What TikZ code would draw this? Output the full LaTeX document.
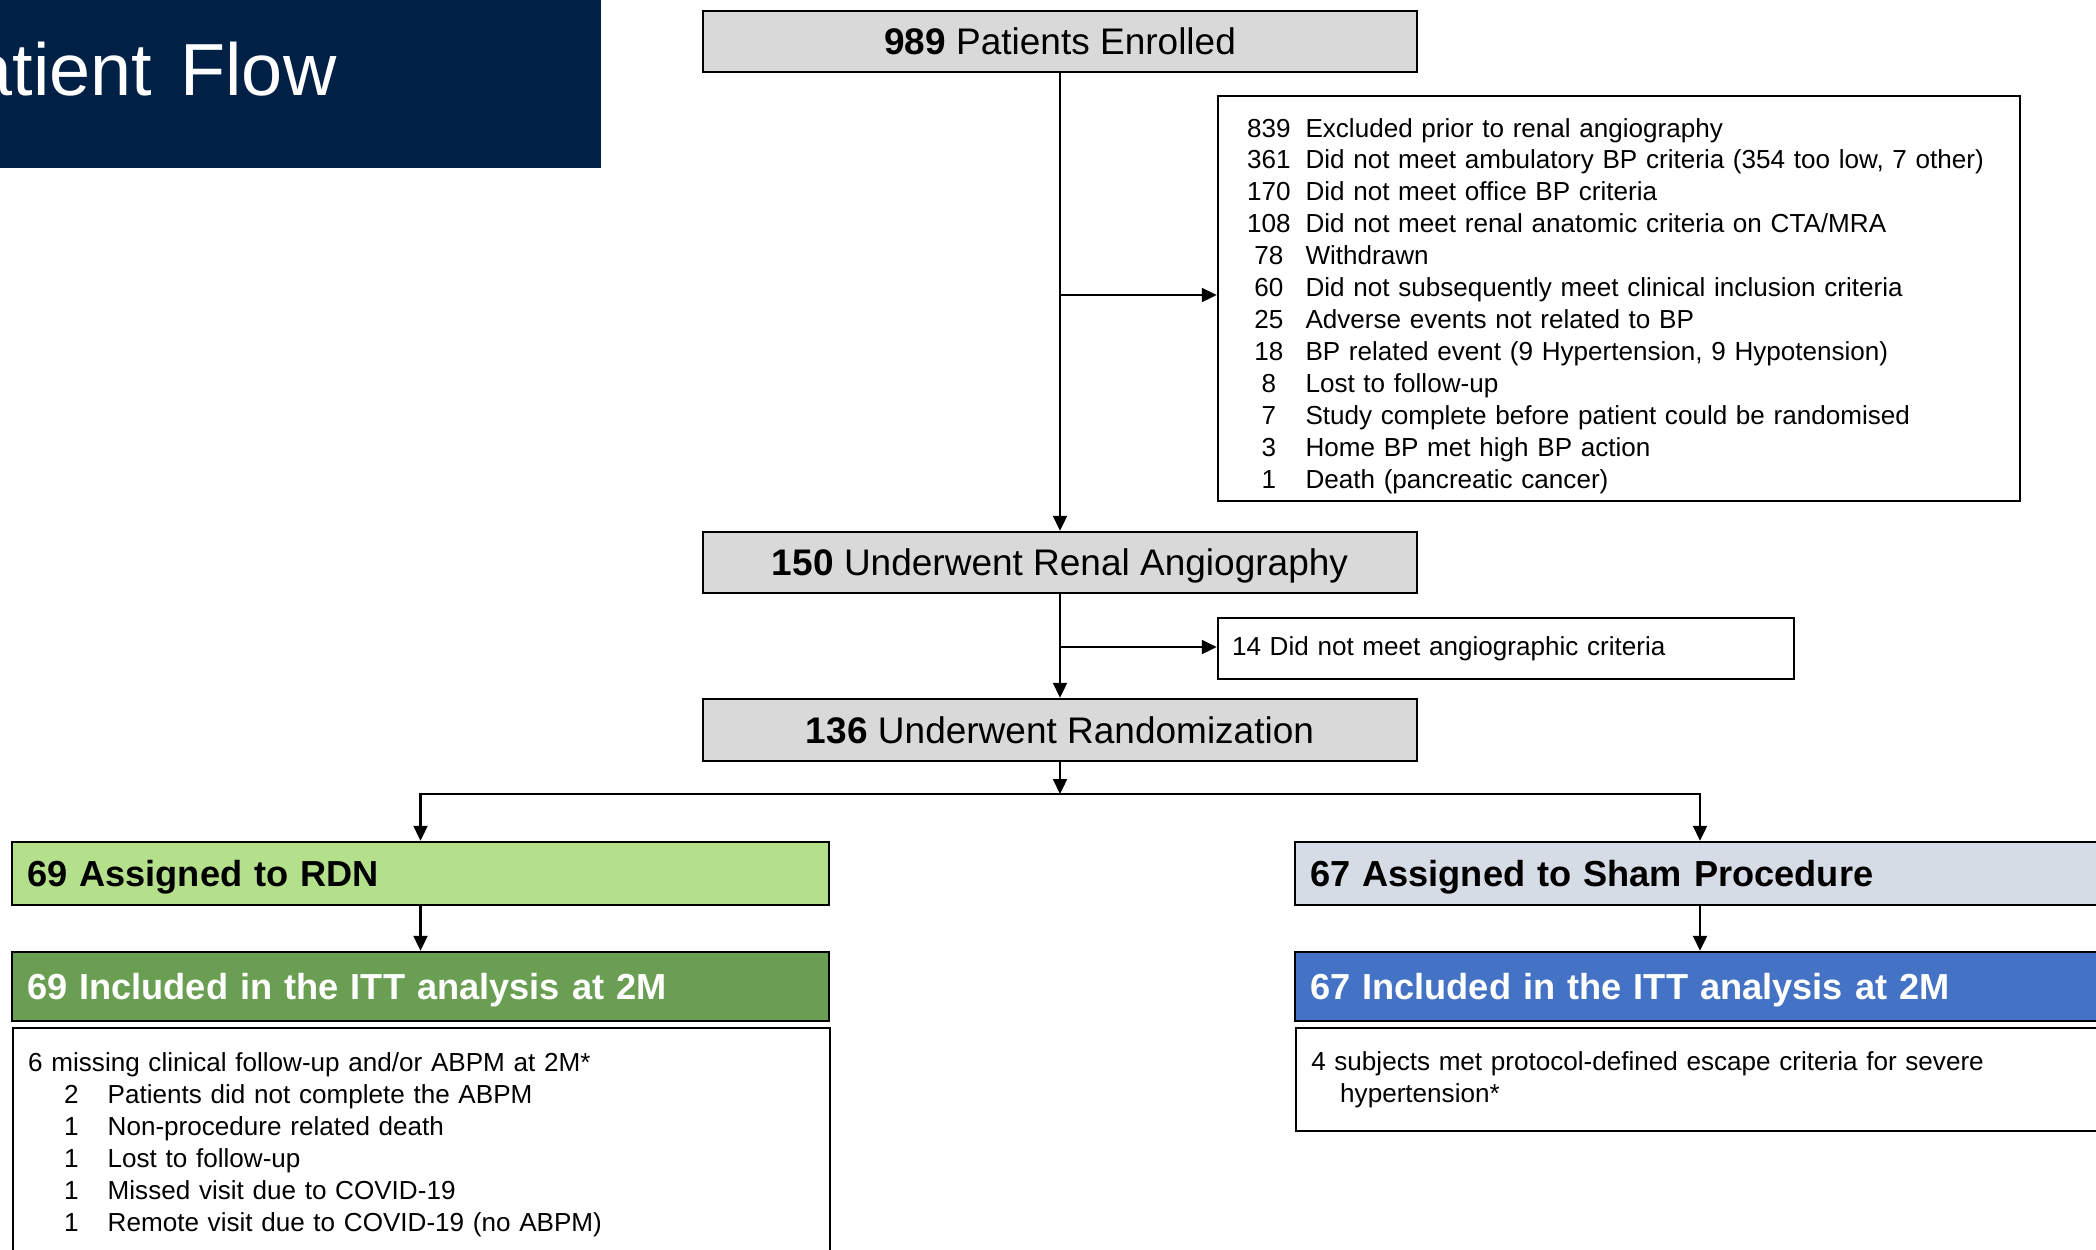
\documentclass[tikz,border=0pt]{standalone}
\usepackage{fontspec}
\setmainfont{Liberation Sans}
\usetikzlibrary{shapes,arrows.meta,positioning}
\definecolor{navy}{RGB}{0,32,70}
\definecolor{boxgray}{RGB}{217,217,217}
\definecolor{rdnlight}{RGB}{181,224,139}
\definecolor{rdndark}{RGB}{106,159,83}
\definecolor{shamlight}{RGB}{214,220,229}
\definecolor{shamdark}{RGB}{68,114,196}
\newcommand{\titletxt}{\fontsize{21}{25}\selectfont\spaceskip 0.38em\relax}
\newcommand{\bigtxt}{\fontsize{10.53}{12.6}\selectfont}
\newcommand{\armtxt}{\fontsize{10.3}{12.4}\selectfont\bfseries}
\newcommand{\smalltxt}{\fontsize{7.42}{9.1}\selectfont}
\tikzstyle{arrow} = [semithick,-{Triangle[length=0.15cm,width=0.14cm]}]
\tikzstyle{mainbox} = [rectangle, draw=black, line width=0.7pt, fill=boxgray, minimum width=7.14cm, minimum height=0.61cm, inner sep=0pt, font=\bigtxt, text height=0.265cm, text depth=0pt]
\tikzstyle{armbox} = [rectangle, draw=black, line width=0.7pt, text width=7.87cm, inner xsep=0.15cm, inner ysep=0pt, align=left, font=\armtxt, text height=0.26cm, text depth=0pt]
\tikzstyle{notebox} = [rectangle, draw=black, line width=0.7pt, align=left, font=\smalltxt]

\begin{document}
\begin{tikzpicture}
        \path[use as bounding box] (0,0) rectangle (20.96,-12.49);
        \clip (0,0) rectangle (20.96,-12.49);

        \fill[navy] (-0.5,0.5) rectangle (6.01,-1.68);
        \node (T) [anchor=base west, inner sep=0pt, text=white] at (-0.78,-0.95) {\titletxt Patient Flow};

        \node (1) [mainbox] at (10.60,-0.415) {\textbf{989} Patients Enrolled};
        \node (X1) [notebox, text width=7.44cm, inner xsep=0.29cm, inner ysep=0pt, minimum height=4.05cm] at (16.19,-2.985) {\vspace*{0.16cm}\raisebox{-0.16cm}[\height][\depth]{\begin{tabular}{@{}c@{\hspace{0.15cm}}l@{}}
            839 & Excluded prior to renal angiography\\
            361 & Did not meet ambulatory BP criteria (354 too low, 7 other)\\
            170 & Did not meet office BP criteria\\
            108 & Did not meet renal anatomic criteria on CTA/MRA\\
            78 & Withdrawn\\
            60 & Did not subsequently meet clinical inclusion criteria\\
            25 & Adverse events not related to BP\\
            18 & BP related event (9 Hypertension, 9 Hypotension)\\
            8 & Lost to follow-up\\
            7 & Study complete before patient could be randomised\\
            3 & Home BP met high BP action\\
            1 & Death (pancreatic cancer)
        \end{tabular}}};
        \node (2) [mainbox] at (10.60,-5.625) {\textbf{150} Underwent Renal Angiography};
        \node (X2) [notebox, text width=5.48cm, inner xsep=0.14cm, inner ysep=0pt, minimum height=0.61cm] at (15.06,-6.485) {14 Did not meet angiographic criteria};
        \node (3) [mainbox, minimum height=0.62cm] at (10.60,-7.30) {\textbf{136} Underwent Randomization};
        \coordinate (split) at (10.60,-7.94);

        \node (4) [armbox, fill=rdnlight, minimum height=0.63cm] at (4.205,-8.735) {69 Assigned to RDN};
        \node (5) [armbox, fill=rdndark, text=white, minimum height=0.69cm] at (4.205,-9.865) {69 Included in the ITT analysis at 2M};
        \node (6) [notebox, anchor=north west, text width=7.87cm, inner xsep=0.15cm, inner ysep=0.206cm] at (0.12,-10.27) {\begin{tabular}{@{\hspace{0.36cm}}c@{\hspace{0.29cm}}l@{}}
            \multicolumn{2}{@{}l@{}}{6 missing clinical follow-up and/or ABPM at 2M*}\\
            2 & Patients did not complete the ABPM\\
            1 & Non-procedure related death\\
            1 & Lost to follow-up\\
            1 & Missed visit due to COVID-19\\
            1 & Remote visit due to COVID-19 (no ABPM)
        \end{tabular}};

        \node (7) [armbox, fill=shamlight, text width=7.80cm, minimum height=0.63cm] at (17.00,-8.735) {67 Assigned to Sham Procedure};
        \node (8) [armbox, fill=shamdark, text=white, text width=7.80cm, minimum height=0.69cm] at (17.00,-9.865) {67 Included in the ITT analysis at 2M};
        \node (9) [notebox, anchor=north west, text width=7.80cm, inner xsep=0.15cm, inner ysep=0.195cm] at (12.95,-10.27) {\begin{tabular}{@{}l@{}}
            4 subjects met protocol-defined escape criteria for severe\\
            \hspace{0.29cm}hypertension*
        \end{tabular}};

        \coordinate (b1) at (10.60,-2.95);
        \coordinate (b2) at (10.60,-6.47);
        \draw[arrow] (1) -- (2);
        \draw[arrow] (b1) -- (b1 -| X1.west);
        \draw[arrow] (2) -- (3);
        \draw[arrow] (b2) -- (b2 -| X2.west);
        \draw[arrow] (3) -- (split);
        \draw[arrow] (split) -| (4);
        \draw[arrow] (split) -| (7);
        \draw[arrow] (4) -- (5);
        \draw[arrow] (7) -- (8);

    \end{tikzpicture}
\end{document}
